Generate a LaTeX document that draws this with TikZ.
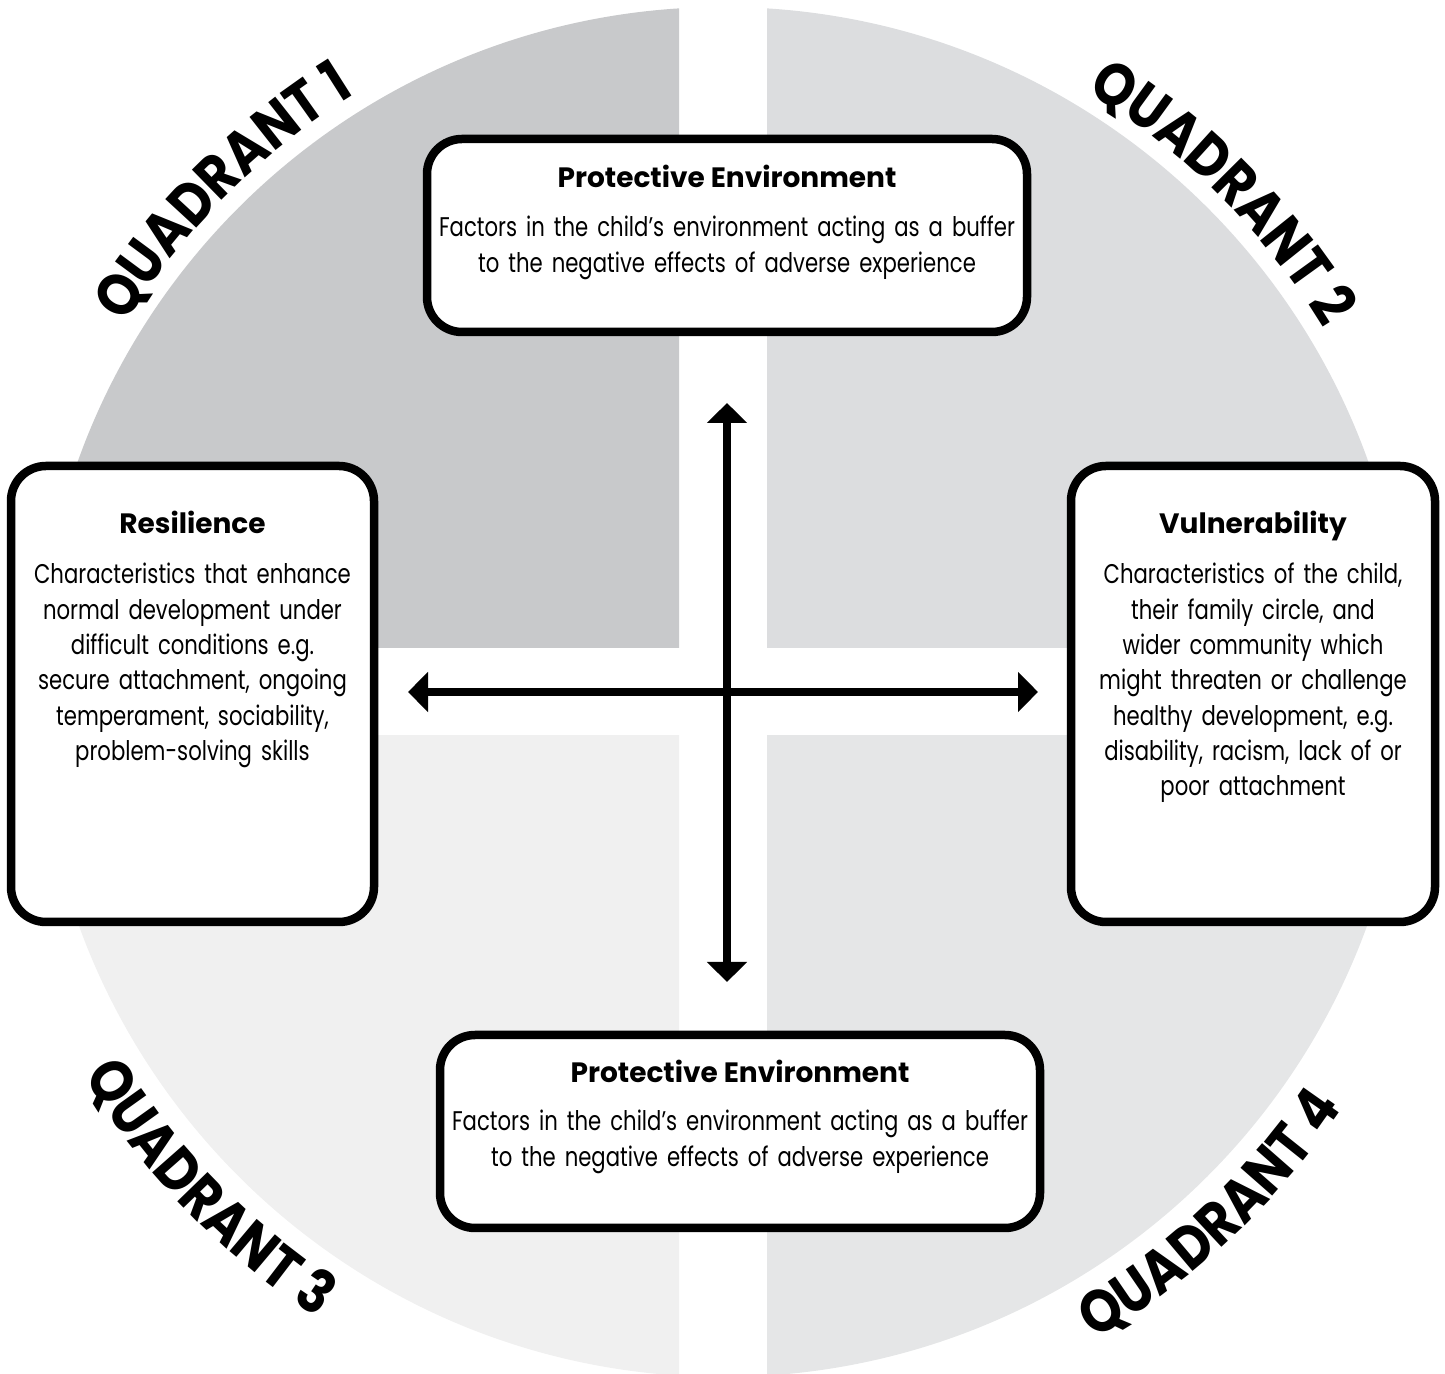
\documentclass[tikz,border=0pt]{standalone}
\usepackage{fontspec}
\setmainfont{Poppins}[FakeStretch=0.785]
\newfontfamily\headfont{Poppins}
\newfontfamily\quadfont{Poppins}[FakeStretch=0.87]
\usetikzlibrary{arrows.meta,decorations.text,calc}
\hyphenpenalty=10000

\definecolor{qone}{RGB}{200,201,203}
\definecolor{qtwo}{RGB}{220,221,223}
\definecolor{qthree}{RGB}{240,240,240}
\definecolor{qfour}{RGB}{229,230,231}

\tikzset{
  panel/.style={draw=black, line width=8.5pt, rounded corners=35pt, fill=white, inner sep=0pt},
  paneltitle/.style={anchor=base, inner sep=0pt, font=\headfont\bfseries\fontsize{28}{34}\selectfont},
  panelbody/.style={anchor=base, inner sep=0pt, align=center, text width=#1,
    font=\fontsize{27}{35.3}\selectfont},
  dblarrow/.style={line width=8pt,
    {Triangle[length=20pt,width=39pt]}-{Triangle[length=20pt,width=39pt]}},
  quadlabel/.style={decorate, decoration={text along path, text align=center,
    text={|\quadfont\bfseries\fontsize{60}{60}\selectfont|#1}}},
}

\begin{document}
\begin{tikzpicture}[x=1pt, y=1pt]
  \useasboundingbox (0,0) rectangle (1445,1373);
  \coordinate (c) at (723,681);

  % four shaded quarters of one disc, split by a white cross
  \begin{scope}
    \clip (0,725) rectangle (679,1373);
    \fill[qone] (c) circle (685);
  \end{scope}
  \begin{scope}
    \clip (767,725) rectangle (1445,1373);
    \fill[qtwo] (c) circle (685);
  \end{scope}
  \begin{scope}
    \clip (0,-10) rectangle (679,637);
    \fill[qthree] (c) circle (685);
  \end{scope}
  \begin{scope}
    \clip (767,-10) rectangle (1445,637);
    \fill[qfour] (c) circle (685);
  \end{scope}

  % curved quadrant titles just outside the rim
  \path[quadlabel={QUADRANT 1}] ($(c)+(165:702)$) arc[start angle=165, end angle=105, radius=702];
  \path[quadlabel={QUADRANT 2}] ($(c)+(75:702)$) arc[start angle=75, end angle=15, radius=702];
  \path[quadlabel={QUADRANT 3}] ($(c)+(194:746)$) arc[start angle=194, end angle=254, radius=746];
  \path[quadlabel={QUADRANT 4}] ($(c)+(283:746)$) arc[start angle=283, end angle=343, radius=746];

  % axes
  \coordinate (vtop) at (727,970);
  \coordinate (vbot) at (727,391);
  \coordinate (hleft) at (408,681);
  \coordinate (hright) at (1038,681);
  \draw[dblarrow] (vbot) -- (vtop);
  \draw[dblarrow] (hleft) -- (hright);

  % panels
  \node[panel, minimum width=600pt, minimum height=193pt] (ptop) at (727,1137.5) {};
  \node[panel, minimum width=600pt, minimum height=193pt] (pbot) at (740,241.5) {};
  \node[panel, minimum width=363pt, minimum height=456pt] (pleft) at (192.5,679) {};
  \node[panel, minimum width=364pt, minimum height=456pt] (pright) at (1253,679) {};

  \node[paneltitle] (ttop) at (727,1185) {Protective Environment};
  \node[panelbody=700pt] (btop) at (727,1136) {Factors in the child’s environment acting as a buffer\\to the negative effects of adverse experience};

  \node[paneltitle] (tbot) at (740,290) {Protective Environment};
  \node[panelbody=700pt] (bbot) at (740,242) {Factors in the child’s environment acting as a buffer\\to the negative effects of adverse experience};

  \node[paneltitle] (tleft) at (192.5,839) {Resilience};
  \node[panelbody=420pt] (bleft) at (192.5,789) {Characteristics that enhance\\normal development under\\difficult conditions e.g.\\secure attachment, ongoing\\temperament, sociability,\\problem-solving skills};

  \node[paneltitle] (tright) at (1253,839) {Vulnerability};
  \node[panelbody=420pt] (bright) at (1253,789) {Characteristics of the child,\\their family circle, and\\wider community which\\might threaten or challenge\\healthy development, e.g.\\disability, racism, lack of or\\poor attachment};
\end{tikzpicture}
\end{document}
